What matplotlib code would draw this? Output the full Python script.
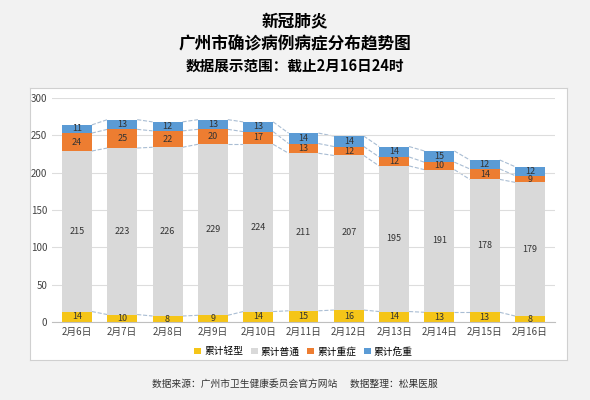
import matplotlib.pyplot as plt
import numpy as np

plt.rcParams['font.family'] = ['Noto Sans CJK SC', 'DejaVu Sans']

dates = ['2月6日', '2月7日', '2月8日', '2月9日', '2月10日', '2月11日',
         '2月12日', '2月13日', '2月14日', '2月15日', '2月16日']
mild = [14, 10, 8, 9, 14, 15, 16, 14, 13, 13, 8]
normal = [215, 223, 226, 229, 224, 211, 207, 195, 191, 178, 179]
severe = [24, 25, 22, 20, 17, 13, 12, 12, 10, 14, 9]
critical = [11, 13, 12, 13, 13, 14, 14, 14, 15, 12, 12]
labels = ['累计轻型', '累计普通', '累计重症', '累计危重']
colors = ['#f5c518', '#d9d9d9', '#ed7d31', '#5b9bd5']

fig = plt.figure(figsize=(5.9, 4), dpi=100, facecolor='#f2f2f2')
# white chart panel
panel = fig.add_axes([30/590, 40/400, 537/590, 272/400], zorder=0)
panel.set_xticks([])
panel.set_yticks([])
for s in panel.spines.values():
    s.set_color('#d0d0d0')
    s.set_linewidth(0.8)

ax = fig.add_axes([52/590, 78/400, 503/590, 224/400], zorder=1)
ax.set_facecolor('white')

x = np.arange(len(dates))
w = 0.66
series = [mild, normal, severe, critical]
bottom = np.zeros(len(dates))
tops = []
for vals, col, lab in zip(series, colors, labels):
    vals = np.array(vals)
    ax.bar(x, vals, w, bottom=bottom, color=col, label=lab, zorder=2)
    for xi, b, v in zip(x, bottom, vals):
        ax.text(xi, b + v / 2, str(v), ha='center', va='center', fontsize=6.5, color='#333333', zorder=3)
    bottom = bottom + vals
    tops.append(bottom.copy())

# dashed connectors between segment tops
for t in tops:
    for i in range(len(x) - 1):
        ax.plot([x[i] + w/2, x[i+1] - w/2], [t[i], t[i+1]], ls='--', color='#a9bdd3', lw=0.8, zorder=1)

ax.set_ylim(0, 300)
ax.set_xlim(-0.55, len(dates) - 0.45)
ax.set_yticks(range(0, 301, 50))
ax.set_xticks(x)
ax.set_xticklabels(dates)
ax.tick_params(axis='both', labelsize=7, length=0, colors='#444444')
ax.grid(axis='y', color='#dddddd', lw=0.8, zorder=0)
for s in ['top', 'right', 'left']:
    ax.spines[s].set_visible(False)
ax.spines['bottom'].set_color('#bfbfbf')

ax.legend(loc='upper center', bbox_to_anchor=(0.5, -0.07), ncol=4, frameon=False,
          fontsize=7, handlelength=0.7, handleheight=0.7, columnspacing=0.8, handletextpad=0.3)

fig.text(0.5, 378/400, '新冠肺炎', ha='center', va='center', fontsize=12, weight='bold')
fig.text(0.5, 356/400, '广州市确诊病例病症分布趋势图', ha='center', va='center', fontsize=12, weight='bold')
fig.text(0.5, 334/400, '数据展示范围：截止2月16日24时', ha='center', va='center', fontsize=10.5, weight='bold')
fig.text(0.5, 16/400, '数据来源：广州市卫生健康委员会官方网站      数据整理：松果医服',
         ha='center', va='center', fontsize=7, color='#333333')

fig.savefig('out.png', dpi=100, facecolor=fig.get_facecolor())
